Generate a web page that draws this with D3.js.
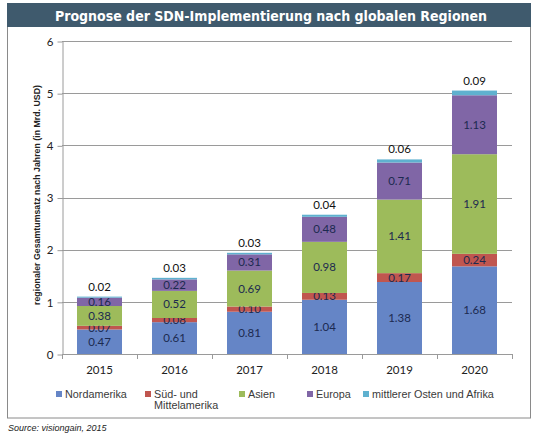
<!DOCTYPE html>
<html>
<head>
<meta charset="utf-8">
<script src="https://cdn.jsdelivr.net/npm/d3@7"></script>
<style>
  body { margin: 0; background: #fff; }
  svg { display: block; }
</style>
</head>
<body>
<div id="chart"></div>
<script>
// Daten
const years = ["2015", "2016", "2017", "2018", "2019", "2020"];
const regions = ["Nordamerika", "Süd- und Mittelamerika", "Asien", "Europa", "mittlerer Osten und Afrika"];
const nordamerika = [0.47, 0.61, 0.81, 1.04, 1.38, 1.68];
const suedamerika = [0.07, 0.08, 0.10, 0.13, 0.17, 0.24];
const asien = [0.38, 0.52, 0.69, 0.98, 1.41, 1.91];
const europa = [0.16, 0.22, 0.31, 0.48, 0.71, 1.13];
const mena = [0.02, 0.03, 0.03, 0.04, 0.06, 0.09];
const yTicks = [0, 1, 2, 3, 4, 5, 6];

const series = [nordamerika, suedamerika, asien, europa, mena];
const colors = ["#6585c6", "#c0564f", "#9dbb5b", "#8066a6", "#5fb1cf"];

// Tabelle für d3.stack
const table = years.map((y, i) => {
    const row = {year: y};
    regions.forEach((r, j) => row[r] = series[j][i]);
    return row;
});

const width = 540, height = 435;
const svg = d3.select("#chart").append("svg")
    .attr("width", width)
    .attr("height", height);

// Rahmen und Titel
svg.append("rect")
    .attr("x", 7.5).attr("y", 3.5)
    .attr("width", 523).attr("height", 414.5)
    .attr("fill", "#fff")
    .attr("stroke", "#8a8a8a")
    .attr("stroke-width", 1);

svg.append("rect")
    .attr("x", 7).attr("y", 3)
    .attr("width", 524).attr("height", 24)
    .attr("fill", "#3f5a6d");

svg.append("text")
    .attr("x", 271).attr("y", 20.5)
    .attr("text-anchor", "middle")
    .attr("font-family", "'DejaVu Sans Condensed', 'Liberation Sans Narrow', sans-serif")
    .attr("font-weight", "bold")
    .attr("font-size", 14)
    .attr("fill", "#fff")
    .text("Prognose der SDN-Implementierung nach globalen Regionen");

// Skalen
const x = d3.scaleBand().domain(years).range([62, 512]).paddingInner(0.4).paddingOuter(0.2);
const y = d3.scaleLinear().domain([0, 6]).range([354, 41]);

// Gitternetz
svg.append("g")
    .selectAll("line")
    .data(yTicks.filter(t => t > 0))
    .join("line")
    .attr("x1", 62).attr("x2", 512)
    .attr("y1", d => Math.round(y(d)) + 0.5)
    .attr("y2", d => Math.round(y(d)) + 0.5)
    .attr("stroke", "#9a9a9a")
    .attr("stroke-width", 1.2);

// Y-Achse
const yAxis = svg.append("g")
    .attr("transform", "translate(62.5,0.5)")
    .call(d3.axisLeft(y).tickValues(yTicks).tickSize(5).tickSizeOuter(0).tickFormat(d3.format("d")));
yAxis.select(".domain").attr("stroke", "#9a9a9a");
yAxis.selectAll(".tick line").attr("stroke", "#9a9a9a");
yAxis.selectAll("text")
    .attr("font-family", "Lato, 'Open Sans', sans-serif")
    .attr("font-size", 11.5)
    .attr("fill", "#222")
    .attr("x", -9);

// Y-Achsentitel
svg.append("text")
    .attr("transform", "translate(40,195) rotate(-90)")
    .attr("text-anchor", "middle")
    .attr("font-family", "'Liberation Sans', Arial, sans-serif")
    .attr("font-weight", "bold")
    .attr("font-size", 8.8)
    .attr("fill", "#222")
    .text("regionaler Gesamtumsatz nach Jahren (in Mrd. USD)");

// Balken
const stack = d3.stack().keys(regions)(table);

const layer = svg.append("g")
    .selectAll("g")
    .data(stack)
    .join("g")
    .attr("fill", (d, i) => colors[i]);

layer.selectAll("rect")
    .data(d => d)
    .join("rect")
    .attr("x", d => x(d.data.year))
    .attr("width", x.bandwidth())
    .attr("y", d => y(d[1]))
    .attr("height", d => y(d[0]) - y(d[1]));

// X-Achse
const xAxis = svg.append("g")
    .attr("transform", "translate(0,354.5)")
    .call(d3.axisBottom(x).tickSize(0).tickSizeOuter(0));
xAxis.select(".domain").attr("stroke", "#9a9a9a").attr("d", "M62,0H512");
xAxis.selectAll("text")
    .attr("font-family", "Lato, 'Open Sans', sans-serif")
    .attr("font-size", 11.5)
    .attr("fill", "#222")
    .attr("dy", "1.4em");

// Trennstriche zwischen Kategorien
svg.append("g")
    .selectAll("line")
    .data(d3.range(years.length + 1))
    .join("line")
    .attr("x1", i => Math.round(62 + i * x.step()) + 0.5)
    .attr("x2", i => Math.round(62 + i * x.step()) + 0.5)
    .attr("y1", 354).attr("y2", 359)
    .attr("stroke", "#9a9a9a");

// Datenbeschriftungen
layer.each(function(s, i) {
    d3.select(this).selectAll("text")
        .data(s)
        .join("text")
        .attr("x", d => x(d.data.year) + x.bandwidth() / 2)
        .attr("y", d => i === regions.length - 1 ? y(d[1]) - 6 : (y(d[0]) + y(d[1])) / 2 + 4)
        .attr("text-anchor", "middle")
        .attr("font-family", "Lato, 'Open Sans', sans-serif")
        .attr("font-size", 11.5)
        .attr("fill", i === regions.length - 1 ? "#111" : "#1c2a50")
        .text(d => (d[1] - d[0]).toFixed(2));
});

// Legende
const legendX = [56, 145, 239, 307, 363];
const legend = svg.append("g")
    .selectAll("g")
    .data(regions)
    .join("g")
    .attr("transform", (d, i) => `translate(${legendX[i]},391)`);

legend.append("rect")
    .attr("width", 6).attr("height", 6)
    .attr("fill", (d, i) => colors[i]);

legend.append("text")
    .attr("x", 9).attr("y", 7)
    .attr("font-family", "'Liberation Sans', Arial, sans-serif")
    .attr("font-size", 10.8)
    .attr("fill", "#3a3a3a")
    .each(function(d) {
        const parts = d === "Süd- und Mittelamerika" ? ["Süd- und", "Mittelamerika"] : [d];
        d3.select(this).selectAll("tspan")
            .data(parts)
            .join("tspan")
            .attr("x", 9)
            .attr("dy", (p, k) => k === 0 ? 0 : 11)
            .text(p => p);
    });

// Quelle
svg.append("text")
    .attr("x", 8).attr("y", 431)
    .attr("font-family", "'Liberation Sans', Arial, sans-serif")
    .attr("font-style", "italic")
    .attr("font-size", 9)
    .attr("fill", "#222")
    .text("Source: visiongain, 2015");
</script>
</body>
</html>
